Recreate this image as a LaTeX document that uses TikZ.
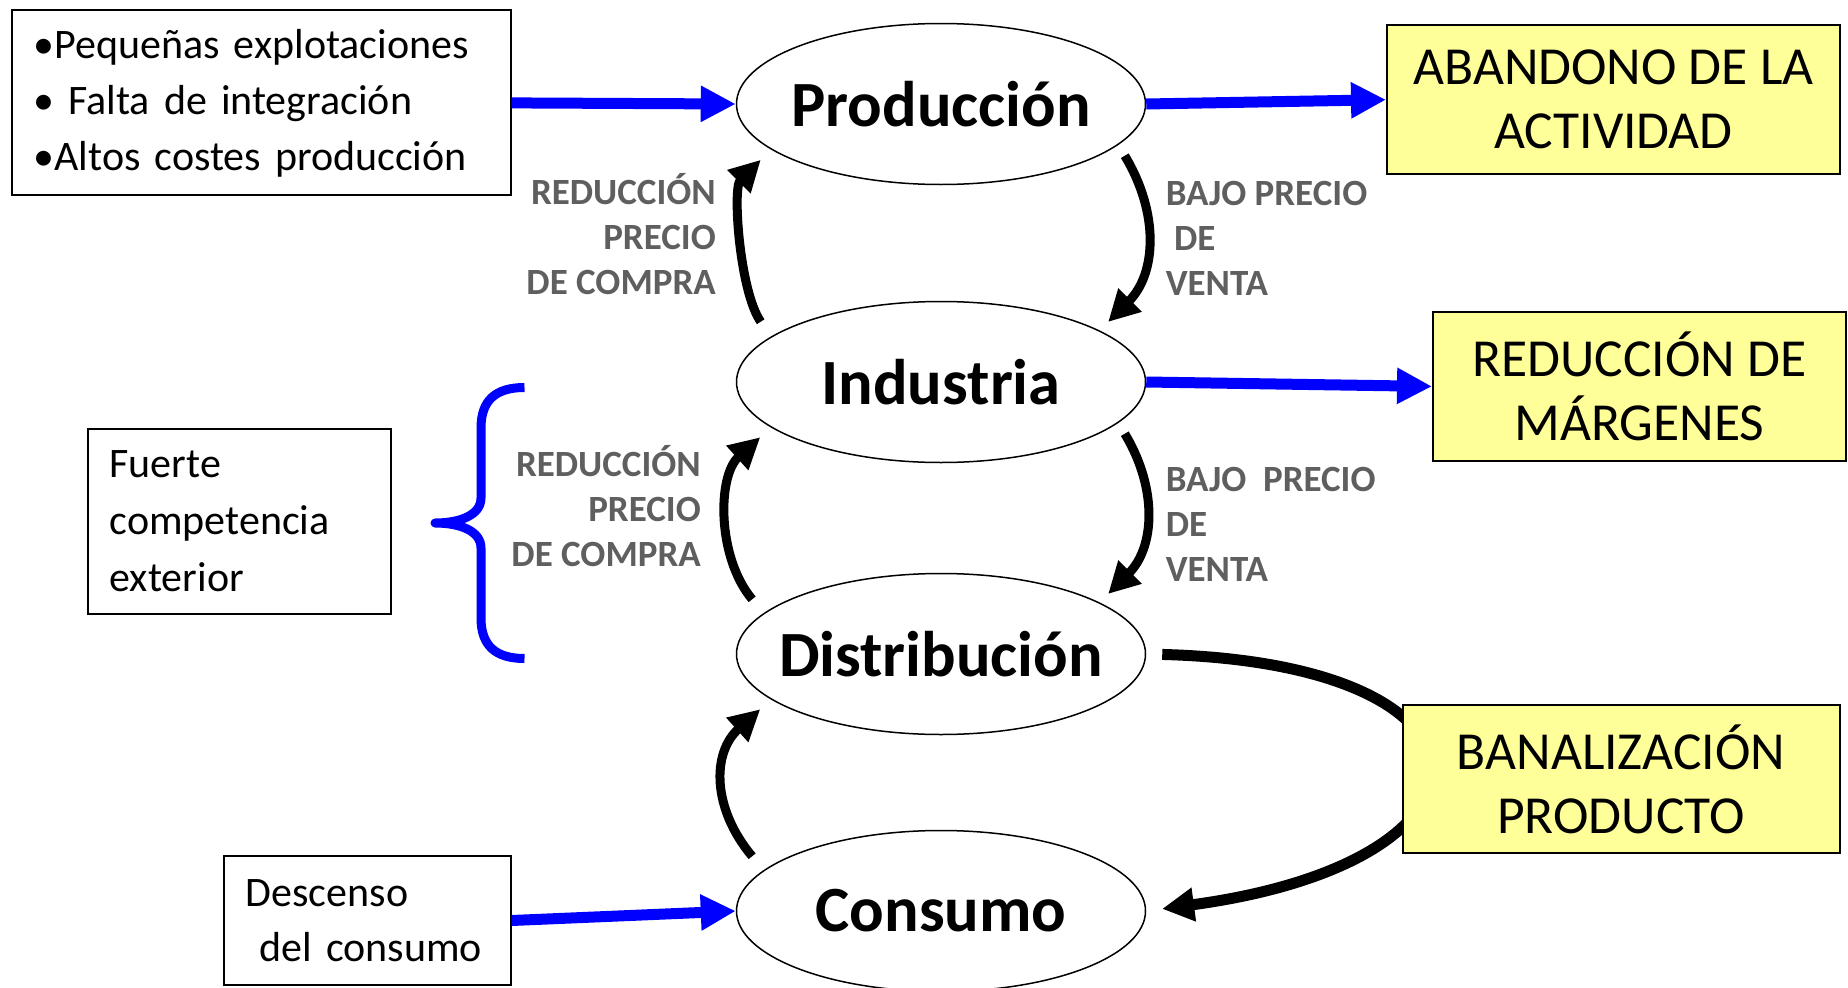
\documentclass[tikz,border=0pt]{standalone}
\usepackage{fontspec}
\setmainfont{Carlito}
\usetikzlibrary{arrows.meta,shapes.geometric}
\definecolor{notayellow}{RGB}{255,255,153}
\definecolor{labelgray}{RGB}{95,95,95}
\tikzset{
    stage/.style={ellipse, draw, line width=1.5pt, minimum width=409pt, minimum height=161pt,
        inner xsep=-20pt, inner ysep=0pt, font=\bfseries\fontsize{64.5}{70}\selectfont},
    causebox/.style={draw, line width=2pt, anchor=north west, inner xsep=22pt, inner ysep=0pt, align=left},
    effectbox/.style={draw, line width=2pt, fill=notayellow, align=center, inner sep=0pt,
        font=\fontsize{53.5}{64}\selectfont},
    pricelabel/.style={text=labelgray, font=\bfseries\fontsize{37}{45}\selectfont, inner sep=0pt},
    bluearrow/.style={draw=blue, line width=11pt, -{Triangle[length=35pt,width=34pt]}},
    downstep/.style={line width=9pt, -{Triangle[length=31pt,width=31pt]}, looseness=1.1,
        shorten <=12.6pt, shorten >=12pt},
    upstep/.style={line width=9pt, -{Triangle[length=31pt,width=31pt]},
        shorten <=18pt, shorten >=14.5pt},
}

\begin{document}
\begin{tikzpicture}[x=1pt, y=-1pt]
\useasboundingbox (0,0) rectangle (1848,988);

% chain
\node[stage] (prod) at (941,104) {Producción};
\node[stage] (ind) at (941,382) {Industria};
\node[stage] (dist) at (941,654) {Distribución};
\node[stage] (cons) at (941,911) {Consumo};

% causes on the left
\node[causebox, minimum height=185pt, text width=455pt, font=\fontsize{42}{56}\selectfont] (factors) at (10.6,9.4)
    {•Pequeñas explotaciones\\• Falta de integración\\•Altos costes producción};
\node[causebox, minimum height=185pt, text width=259pt, font=\fontsize{42}{57}\selectfont] (compet) at (86.6,427.7)
    {Fuerte\\competencia\\exterior};
\node[causebox, minimum height=129pt, text width=243pt, font=\fontsize{42}{55}\selectfont] (descenso) at (222.7,855)
    {Descenso\\\ del consumo};

% brace
\draw[blue, line width=9pt, line join=round] (524.5,387.5) .. controls (496,387.5) and (481,400) .. (481,428)
    -- (481,498) .. controls (481,515) and (460,523) .. (435,523)
    .. controls (460,523) and (481,531) .. (481,548)
    -- (481,618) .. controls (481,646) and (496,658.5) .. (524.5,658.5);

% back to consumption (behind the box)
\draw[line width=11pt, -{Triangle[length=32pt,width=32pt]}, shorten <=16pt, shorten >=16pt]
    (dist.east) .. controls +(370,10) and +(370,-50) .. (cons.east);

% effects on the right
\node[effectbox, minimum width=453pt, minimum height=149pt] (abandono) at (1613.5,99.7) {ABANDONO DE LA\\ACTIVIDAD};
\node[effectbox, minimum width=413pt, minimum height=149pt] (margenes) at (1639.5,386.4) {REDUCCIÓN DE\\MÁRGENES};
\node[effectbox, minimum width=437pt, minimum height=148pt] (banal) at (1621,779) {BANALIZACIÓN\\PRODUCTO};

% price labels
\node[pricelabel, align=right, anchor=north east] (compra1) at (716,173) {REDUCCIÓN\\PRECIO\\DE COMPRA};
\node[pricelabel, align=right, anchor=north east] (compra2) at (701,445.6) {REDUCCIÓN\\PRECIO\\DE COMPRA};
\node[pricelabel, align=left, anchor=north west] (venta1) at (1165.6,180.6) {BAJO PRECIO\\\ DE\\VENTA};
\node[pricelabel, align=left, anchor=north west] (venta2) at (1165.6,466.6) {BAJO\ \ PRECIO\\DE\\VENTA};

% blue arrows
\draw[bluearrow] (factors.east) -- (prod.west);
\draw[bluearrow] (prod.east) -- (abandono.west);
\draw[bluearrow] (ind.east) -- (margenes.west);
\draw[bluearrow] (descenso.east) -- (cons.west);

% black arrows
\draw[downstep] (prod.-13) to[out=-59, in=45] (ind.18);
\draw[downstep] (ind.-13) to[out=-59, in=45] (dist.18);
\draw[upstep, looseness=0.75] (ind.165) to[out=125, in=-135] (prod.-165.5);
\draw[upstep, looseness=1.0] (dist.167) to[out=130, in=-138] (ind.-165.5);
\draw[upstep, looseness=1.2] (cons.167) to[out=130, in=-138] (dist.-165.5);
\end{tikzpicture}
\end{document}
